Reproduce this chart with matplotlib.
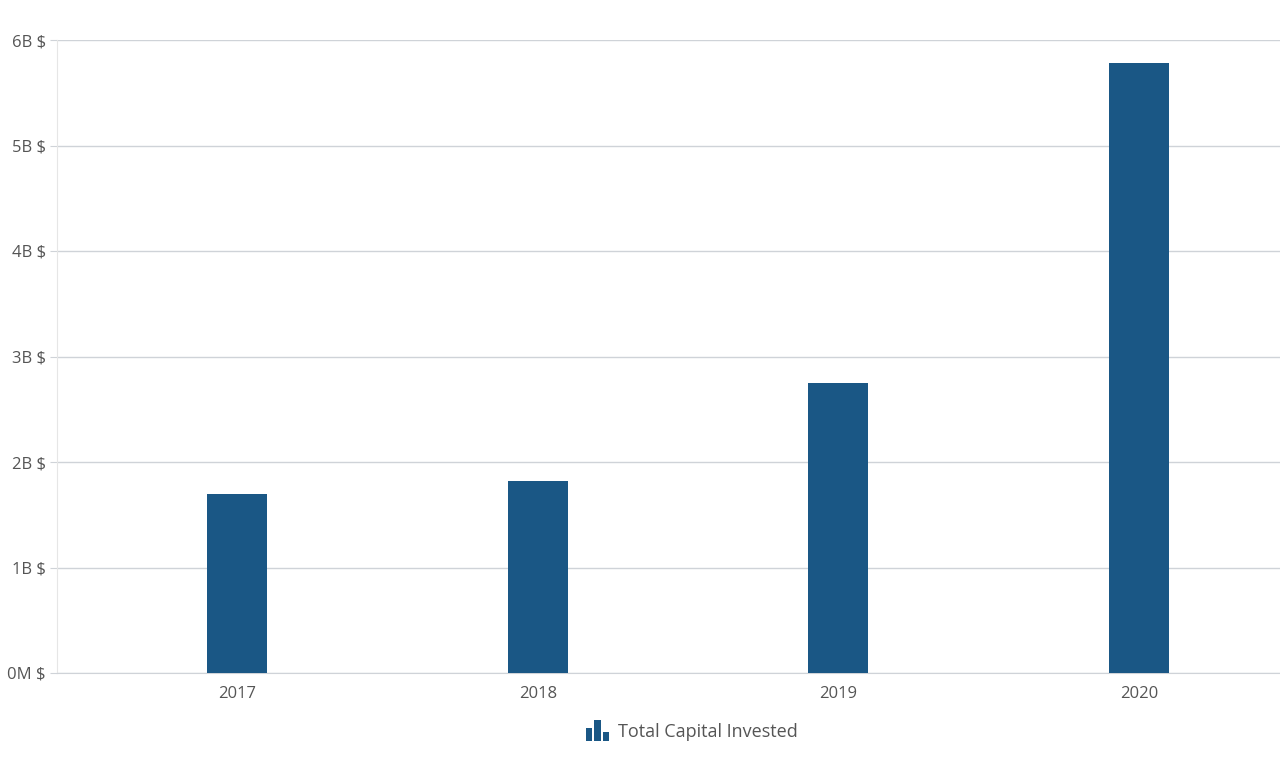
import numpy as np
import matplotlib.pyplot as plt
from matplotlib.legend_handler import HandlerBase
from matplotlib.patches import Rectangle

plt.rcParams['font.family'] = ['Open Sans', 'DejaVu Sans']

years = ['2017', '2018', '2019', '2020']
capital_b = [1.70, 1.82, 2.75, 5.78]  # billions of $
tick_vals = [0, 1, 2, 3, 4, 5, 6]
tick_labels = ['0M $', '1B $', '2B $', '3B $', '4B $', '5B $', '6B $']

bar_color = '#1a5785'
text_color = '#555555'
grid_color = '#cfd3d8'


class BarIconHandler(HandlerBase):
    # little three-bar glyph like the one in the legend
    def create_artists(self, legend, orig_handle, xdescent, ydescent,
                       width, height, fontsize, trans):
        w = width / 3.6
        gap = w * 0.3
        heights = [0.65, 1.0, 0.45]
        arts = []
        for i, h in enumerate(heights):
            r = Rectangle((-xdescent + i * (w + gap), -ydescent - height * 0.1), w,
                          height * h * 1.25,
                          facecolor=bar_color, edgecolor='none', transform=trans)
            arts.append(r)
        return arts


fig = plt.figure(figsize=(12.8, 7.64), dpi=100)
ax = fig.add_axes([57 / 1280, 91 / 764, 1 - 57 / 1280, 633 / 764])

x = np.arange(len(years))
bars = ax.bar(x, capital_b, width=0.2, color=bar_color, zorder=3,
              label='Total Capital Invested')

ax.set_ylim(0, 6)
ax.set_xlim(-0.6, 3.47)
ax.set_yticks(tick_vals)
ax.set_yticklabels(tick_labels)
ax.set_xticks(x)
ax.set_xticklabels(years)
ax.yaxis.grid(True, color=grid_color, linewidth=1, zorder=0)
ax.tick_params(axis='both', colors=text_color, labelsize=12, length=0, pad=9)
ax.tick_params(axis='y', length=5, color=grid_color, pad=3)

for s in ['top', 'right']:
    ax.spines[s].set_visible(False)
ax.spines['left'].set_color('#e6e6e6')
ax.spines['bottom'].set_color(grid_color)

fig.legend(handles=[bars], labels=['Total Capital Invested'],
           handler_map={type(bars): BarIconHandler()},
           loc='center', bbox_to_anchor=(692 / 1280, 1 - 732 / 764),
           frameon=False, fontsize=13, labelcolor=text_color,
           handlelength=1.3, handleheight=1.0, handletextpad=0.5)

fig.savefig('out.png', dpi=100)
